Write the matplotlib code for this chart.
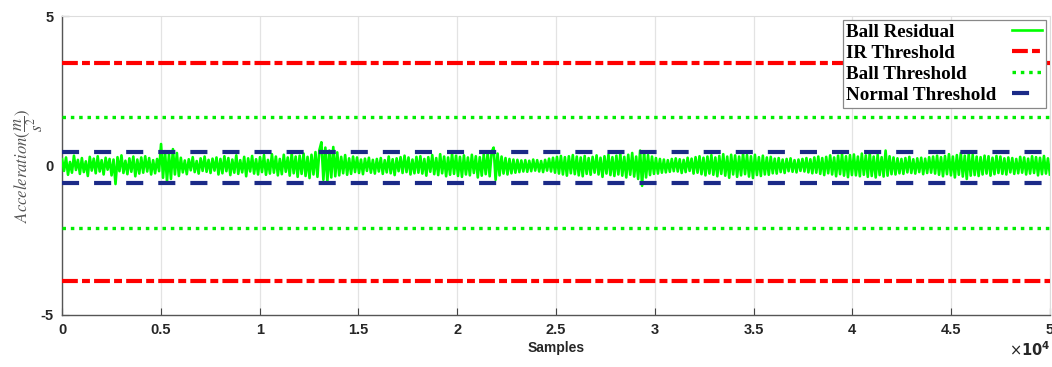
import numpy as np
import matplotlib
matplotlib.use('Agg')
import matplotlib.pyplot as plt

plt.rcParams['mathtext.fontset'] = 'stix'

# Ball residual signal (equally spaced over the samples)
residual = [
    0.21,-0.18,0.27,-0.31,0.12,-0.24,0.33,-0.15,0.19,-0.28,0.25,-0.22,0.14,-0.35,0.29,-0.17,0.23,-0.26,0.31,-0.2,
    0.18,-0.3,0.26,-0.14,0.22,-0.33,0.2,-0.62,0.28,-0.19,0.34,-0.25,0.16,-0.29,0.24,-0.21,0.3,-0.36,0.2,-0.27,
    0.27,-0.24,0.31,-0.2,0.25,-0.3,0.18,-0.26,0.22,-0.19,0.72,-0.41,0.48,-0.52,0.38,-0.45,0.55,-0.3,0.42,-0.35,
    0.26,-0.23,0.17,-0.29,0.21,-0.16,0.28,-0.22,0.15,-0.27,0.24,-0.18,0.3,-0.21,0.19,-0.25,0.23,-0.17,0.27,-0.3,
    0.22,-0.26,0.31,-0.19,0.25,-0.32,0.2,-0.24,0.34,-0.28,0.18,-0.23,0.29,-0.36,0.24,-0.2,0.32,-0.27,0.21,-0.3,
    0.28,-0.22,0.35,-0.31,0.19,-0.27,0.38,-0.24,0.3,-0.33,0.22,-0.29,0.36,-0.21,0.27,-0.34,0.41,-0.26,0.3,-0.38,
    0.33,-0.28,0.4,-0.35,0.29,-0.42,0.36,-0.3,0.45,-0.38,0.52,0.78,-0.48,0.6,-0.55,0.5,-0.4,0.62,-0.36,0.44,
    -0.33,0.29,-0.26,0.35,-0.31,0.24,-0.28,0.3,-0.22,0.27,-0.25,0.2,-0.29,0.23,-0.18,0.26,-0.24,0.19,-0.27,0.22,
    -0.2,0.25,-0.28,0.18,-0.23,0.3,-0.26,0.21,-0.32,0.24,-0.19,0.28,-0.25,0.33,-0.22,0.27,-0.3,0.2,-0.26,0.29,
    -0.24,0.31,-0.27,0.22,-0.34,0.28,-0.21,0.35,-0.29,0.25,-0.32,0.38,-0.26,0.3,-0.36,0.27,-0.31,0.4,-0.28,0.33,
    -0.35,0.29,-0.38,0.34,-0.3,0.27,-0.33,0.36,-0.25,0.31,-0.4,0.28,-0.34,0.37,-0.29,0.42,-0.36,0.45,0.6,-0.48,
    0.4,-0.33,0.3,-0.27,0.25,-0.3,0.22,-0.26,0.2,-0.24,0.19,-0.22,0.17,-0.2,0.18,-0.21,0.16,-0.19,0.2,-0.17,
    0.18,-0.2,0.15,-0.22,0.19,-0.17,0.23,-0.2,0.26,-0.24,0.29,-0.27,0.32,-0.3,0.28,-0.34,0.31,-0.26,0.35,-0.29,
    0.3,-0.33,0.27,-0.36,0.32,-0.28,0.25,-0.31,0.29,-0.24,0.34,-0.3,0.26,-0.38,0.31,-0.27,0.36,-0.32,0.28,-0.35,
    0.33,-0.3,0.38,-0.34,0.29,-0.4,0.36,-0.31,0.42,-0.37,0.3,-0.45,0.5,-0.68,0.47,-0.4,0.35,-0.32,0.3,-0.28,
    0.25,-0.27,0.22,-0.24,0.2,-0.23,0.18,-0.21,0.22,-0.19,0.24,-0.2,0.21,-0.25,0.19,-0.22,0.26,-0.18,0.23,-0.27,
    0.28,-0.24,0.31,-0.29,0.26,-0.33,0.3,-0.27,0.35,-0.31,0.27,-0.36,0.32,-0.28,0.38,-0.34,0.3,-0.41,0.36,-0.3,
    0.34,-0.38,0.3,-0.33,0.4,-0.29,0.35,-0.37,0.31,-0.42,0.36,-0.32,0.28,-0.35,0.33,-0.3,0.27,-0.31,0.29,-0.26,
    0.23,-0.27,0.25,-0.22,0.2,-0.25,0.22,-0.19,0.24,-0.21,0.18,-0.23,0.2,-0.18,0.22,-0.2,0.25,-0.23,0.21,-0.26,
    0.27,-0.24,0.3,-0.28,0.25,-0.32,0.29,-0.26,0.34,-0.3,0.27,-0.36,0.33,-0.29,0.38,-0.34,0.31,-0.39,0.35,-0.32,
    0.37,-0.33,0.3,-0.36,0.4,-0.31,0.34,-0.38,0.42,-0.35,0.3,-0.4,0.36,-0.32,0.28,-0.37,0.5,-0.34,0.31,-0.29,
    0.27,-0.3,0.24,-0.26,0.22,-0.28,0.25,-0.23,0.29,-0.25,0.21,-0.27,0.24,-0.22,0.26,-0.29,0.23,-0.25,0.28,-0.24,
    0.3,-0.27,0.33,-0.31,0.28,-0.36,0.32,-0.29,0.38,-0.33,0.3,-0.4,0.35,-0.31,0.42,-0.37,0.33,-0.45,0.39,-0.34,
    0.36,-0.32,0.3,-0.35,0.28,-0.3,0.33,-0.27,0.31,-0.34,0.26,-0.29,0.32,-0.25,0.3,-0.28,0.24,-0.3,0.27,-0.23,
    0.25,-0.28,0.22,-0.26,0.29,-0.24,0.27,-0.3,0.23,-0.27,0.31,-0.25,0.28,-0.33,0.26,-0.29,0.32,-0.27,0.24,-0.3,
]
n_samples = 50000

# thresholds (upper, lower)
ir_threshold = [3.43, -3.86]
ball_threshold = [1.62, -2.09]
normal_threshold = [0.46, -0.57]

x_ticks = [0, 5000, 10000, 15000, 20000, 25000, 30000, 35000, 40000, 45000, 50000]
y_ticks = [-5, 0, 5]

fig = plt.figure(figsize=(10.52, 3.67), dpi=100)
ax = fig.add_axes([0.059, 0.142, 0.939, 0.814])

x = np.linspace(0, n_samples, len(residual))
ax.plot(x, residual, color='#00ff00', lw=1.9, label='Ball Residual', zorder=3)

for i, v in enumerate(ir_threshold):
    ax.axhline(v, color='#ff0000', lw=3, dashes=(3.8, 1.0, 1.9, 1.0),
               label='IR Threshold' if i == 0 else None, zorder=4)
for i, v in enumerate(ball_threshold):
    ax.axhline(v, color='#00ee00', lw=2.4, dashes=(1.05, 1.45),
               label='Ball Threshold' if i == 0 else None, zorder=4)
for i, v in enumerate(normal_threshold):
    ax.axhline(v, color='#1b2a87', lw=3, dashes=(4.1, 3.6),
               label='Normal Threshold' if i == 0 else None, zorder=4)

ax.set_xlim(0, n_samples)
ax.set_ylim(-5, 5)
ax.set_xticks(x_ticks)
ax.set_xticklabels(['%g' % (t / 1e4) for t in x_ticks], fontweight='bold',
                   fontsize=10.5, family='Liberation Sans', color='#262626')
ax.set_yticks(y_ticks)
ax.set_yticklabels([str(t) for t in y_ticks], fontweight='bold',
                   fontsize=10.5, family='Liberation Sans', color='#262626')
ax.tick_params(direction='in', length=5, width=0.8, color='#444444', pad=6)
ax.grid(axis='x', color='#e3e3e3', lw=0.9)
ax.set_axisbelow(True)

for s in ['left', 'bottom']:
    ax.spines[s].set_color('#555555')
    ax.spines[s].set_linewidth(1)
for s in ['top', 'right']:
    ax.spines[s].set_color('#dddddd')
    ax.spines[s].set_linewidth(0.8)

ax.set_xlabel('Samples', fontweight='bold', fontsize=10, family='Liberation Sans',
              color='#262626', labelpad=3)
ax.set_ylabel(r'$Acceleration(\dfrac{m}{s^2})$', fontsize=12, color='#555555', labelpad=-3)
fig.text(0.979, 0.03, r'$\times\mathbf{10^4}$', fontsize=10.5, ha='center',
         math_fontfamily='dejavusans', color='#262626')

leg = ax.legend(loc='upper right', markerfirst=False, fancybox=False,
                prop={'family': 'Liberation Serif', 'weight': 'bold', 'size': 13.7},
                borderpad=0.2, labelspacing=0.19, handlelength=1.6,
                handletextpad=0.8, borderaxespad=0.2, framealpha=1)
leg.get_frame().set_edgecolor('#888888')
leg.get_frame().set_linewidth(0.9)

# left-align the legend labels while keeping the line samples on the right
fig.canvas.draw()
col = leg._legend_handle_box.get_children()[0]
col.align = 'left'
widths = [t.get_window_extent().width for t in leg.get_texts()]
for row, w in zip(col.get_children(), widths):
    row.sep = row.sep + (max(widths) - w) * 72.0 / fig.dpi

fig.savefig('out.png', dpi=100)
